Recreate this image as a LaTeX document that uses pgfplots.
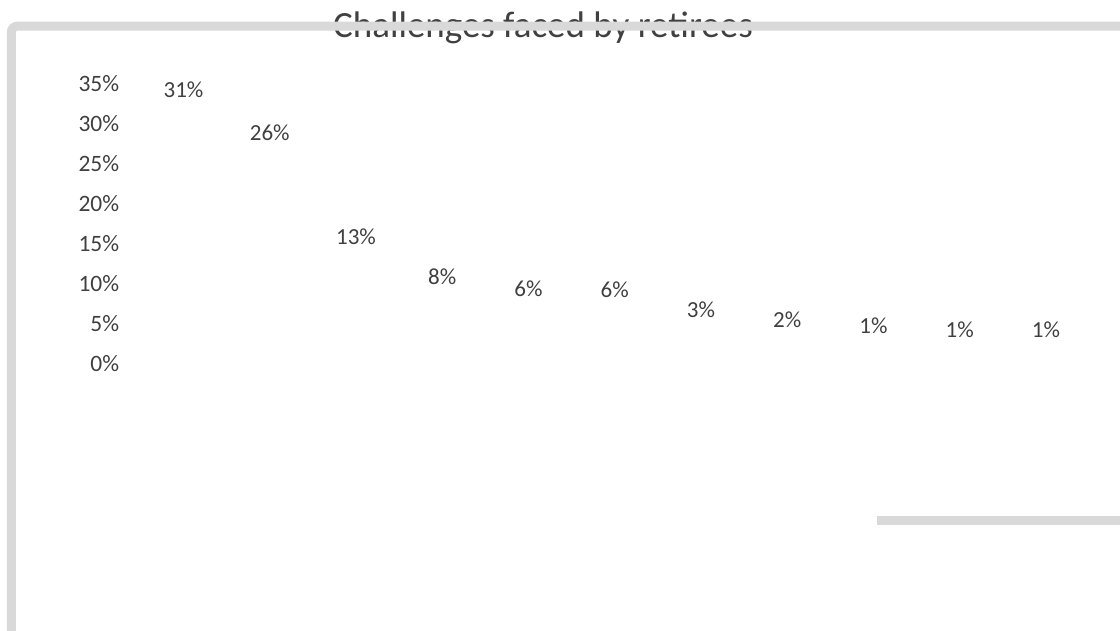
\documentclass[border=0pt]{standalone}
\usepackage{fontspec}
\setmainfont{Carlito}
\usepackage{pgfplots}
\pgfplotsset{compat=1.18}
\definecolor{txt}{HTML}{404040}
\definecolor{frm}{HTML}{D9D9D9}
\begin{document}
\begin{tikzpicture}[x=1pt,y=1pt]
\path[use as bounding box] (0,0) rectangle (1120,631);
\node[anchor=base, text=txt, font=\fontsize{37}{42}\selectfont, inner sep=0pt] at (543,593) {Challenges faced by retirees};
\begin{axis}[
  at={(140.4pt,267.7pt)}, anchor=south west,
  scale only axis, width=948.7pt, height=279.3pt,
  xmin=-0.5, xmax=10.5, ymin=0, ymax=35,
  axis line style={draw=none}, major tick length=0pt,
  xtick=\empty, ytick={0,5,...,35},
  /pgf/number format/assume math mode=true,
  yticklabel={\pgfmathprintnumber{\tick}\%},
  yticklabel style={anchor=east, inner sep=0pt, xshift=-21pt, text=txt, font=\fontsize{23.5}{27}\selectfont},
  clip=false]
\addplot[only marks, mark=*, mark options={opacity=0, draw=none, fill=none},
  point meta=y,
  nodes near coords={\pgfmathprintnumber[fixed,precision=0]{\pgfplotspointmeta}\%},
  every node near coord/.append style={anchor=center, yshift=26pt, inner sep=0pt, text=txt, text opacity=1, opacity=1, font=\fontsize{23}{27}\selectfont}]
coordinates {(0,31.0) (1,25.6) (2,12.6) (3,7.6) (4,6.1) (5,5.9) (6,3.4) (7,2.2) (8,1.4) (9,1.0) (10,0.9)};
\end{axis}
\draw[frm, line width=9pt, rounded corners=6pt] (11.3,-5) -- (11.3,604.8) -- (1130,604.8);
\draw[frm, line width=9.3pt] (877.3,110.7) -- (1125,110.7);
\end{tikzpicture}
\end{document}
